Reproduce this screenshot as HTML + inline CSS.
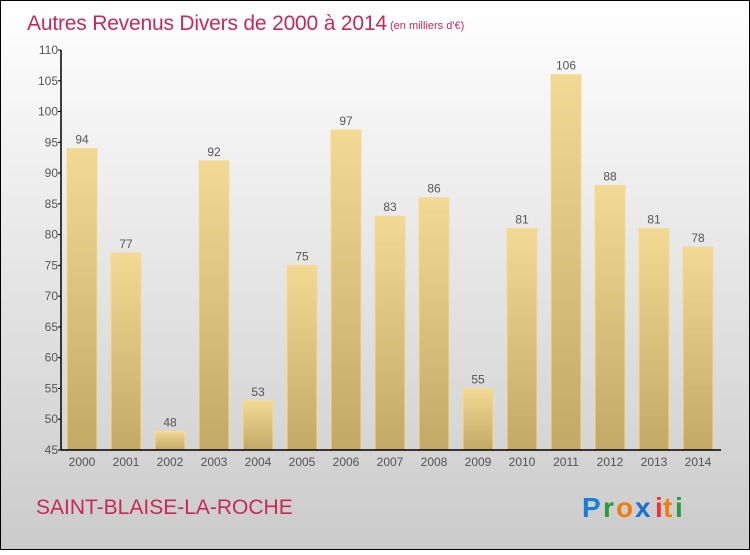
<!DOCTYPE html>
<html><head><meta charset="utf-8"><style>
body{margin:0;width:750px;height:550px;overflow:hidden;font-family:"Liberation Sans",sans-serif}
</style></head><body>
<svg id="c" width="750" height="550" xmlns="http://www.w3.org/2000/svg">
<defs>
<linearGradient id="bg" x1="0" y1="0" x2="0" y2="1"><stop offset="0" stop-color="#ffffff"/><stop offset="1" stop-color="#cbcbcb"/></linearGradient>
<linearGradient id="bar" x1="0" y1="0" x2="0" y2="1"><stop offset="0" stop-color="#f2d994"/><stop offset="1" stop-color="#c2aa66"/></linearGradient>
</defs>
<rect x="0.5" y="0.5" width="749" height="549" fill="url(#bg)" stroke="#000"/>
<text x="27" y="30" font-size="21" fill="#c8285a" textLength="360">Autres Revenus Divers de 2000 à 2014</text>
<text x="390" y="29" font-size="11" fill="#c8285a">(en milliers d'€)</text>
<g id="bars"></g>
<g id="axes"></g>
<text x="36" y="514" font-size="21" fill="#c8285a">SAINT-BLAISE-LA-ROCHE</text>
<g font-size="28" font-weight="bold">
<text x="582" y="517" fill="#1a7fd4">P</text><text x="603" y="517" fill="#2a9b3a">r</text><text x="616" y="517" fill="#f07d10">o</text><text x="635" y="517" fill="#1a6fd0">x</text><text x="655" y="517" fill="#e33">i</text><text x="663" y="517" fill="#f07d10">t</text><text x="675" y="517" fill="#2a9b3a">i</text>
</g>
</svg>
<script>
const years=["2000","2001","2002","2003","2004","2005","2006","2007","2008","2009","2010","2011","2012","2013","2014"];
const values=[94,77,48,92,53,75,97,83,86,55,81,106,88,81,78];
const ticks=[45,50,55,60,65,70,75,80,85,90,95,100,105,110];
const NS="http://www.w3.org/2000/svg";
const y0=450,y1=50,vmin=45,vmax=110;
const y=v=>y0-(v-vmin)/(vmax-vmin)*(y0-y1);
const x=i=>82+i*44;
function mk(t,a,p){const e=document.createElementNS(NS,t);for(const k in a)e.setAttribute(k,a[k]);p.appendChild(e);return e;}
const bg=document.getElementById('bars'),ag=document.getElementById('axes');
values.forEach((v,i)=>{
 const r=mk('rect',{x:x(i)-15,y:y(v),width:30,height:y0-y(v),fill:'url(#bar)',stroke:'#f3dc98','stroke-width':1},bg);
 
 
 const t=mk('text',{x:x(i),y:y(v)-5,'text-anchor':'middle','font-size':12,fill:'#555'},bg);t.textContent=v;
 
 
 const l=mk('text',{x:x(i),y:466,'text-anchor':'middle','font-size':12,fill:'#555'},ag);l.textContent=years[i];
 
 
});
ticks.forEach(v=>{
 mk('line',{x1:58,x2:61,y1:y(v),y2:y(v),stroke:'#000'},ag);
 const t=mk('text',{x:58,y:y(v)+4,'text-anchor':'end','font-size':12,fill:'#555'},ag);t.textContent=v;
 
 
});
const ya=mk('line',{x1:61,x2:61,y1:50,y2:450,stroke:'#000','stroke-width':1.5},ag);


const xa=mk('line',{x1:61,x2:721,y1:450,y2:450,stroke:'#000','stroke-width':1.5},ag);


</script>
</body></html>
